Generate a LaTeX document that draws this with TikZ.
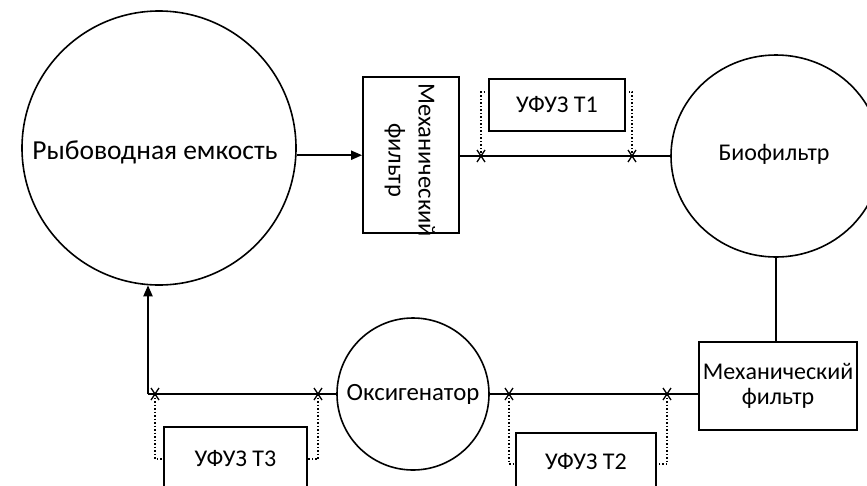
\documentclass[tikz,border=0pt]{standalone}
\usepackage{fontspec}
\setmainfont{Carlito}
\usetikzlibrary{arrows.meta,shapes.geometric,calc}
\tikzset{
  ln/.style={line width=2pt},
  arr/.style={line width=2pt,-{Triangle[length=11pt,width=9pt]}},
  ring/.style={draw,line width=1.6pt,circle,inner sep=0pt},
  boxx/.style={draw,line width=1.8pt,rectangle,inner sep=0pt},
  dots/.style={line width=1.5pt,dotted},
  txt/.style={font=\fontsize{24}{25}\selectfont,align=center},
  xmark/.style={line width=1.3pt}
}
\newcommand{\xm}[1]{\draw[xmark] ($(#1)+(-4,-6)$) -- ($(#1)+(4,6)$) ($(#1)+(-4,6)$) -- ($(#1)+(4,-6)$);}
\begin{document}
\begin{tikzpicture}[x=1pt,y=-1pt]
\useasboundingbox (0,0) rectangle (867,485);
\clip (0,0) rectangle (867,485);
% tank
\node[ring,minimum size=274pt] (tank) at (159,148) {};
\node[font=\fontsize{27.5}{29}\selectfont] (tanktxt) at (155,152) {Рыбоводная емкость};
% mech filter 1 (vertical)
\node[boxx,minimum width=96pt,minimum height=156pt] (mf1) at (411,155) {};
\node[rotate=-90,font=\fontsize{24.5}{30}\selectfont,align=center] (mf1txt) at (410,160) {Механический\\фильтр};
% biofilter
\node[draw,line width=1.6pt,ellipse,inner sep=0pt,minimum width=210pt,minimum height=202pt] (bio) at (776,156) {};
\node[txt] (biotxt) at (774,154) {Биофильтр};
% mech filter 2
\node[boxx,minimum width=158pt,minimum height=88pt,txt] (mf2) at (778,386) {Механический\\фильтр};
% oxygenator
\node[ring,minimum size=152pt,font=\fontsize{24.8}{26}\selectfont] (oxy) at (413,394) {Оксигенатор};
% UFUZ boxes
\node[boxx,minimum width=136pt,minimum height=52pt,txt] (t1) at (557,105) {УФУЗ Т1};
\node[boxx,minimum width=140pt,minimum height=57pt,txt] (t2) at (586,461.5) {УФУЗ Т2};
\node[boxx,minimum width=143pt,minimum height=63pt,txt] (t3) at (235.5,458.5) {УФУЗ Т3};
% coordinates
\coordinate (a1) at (481,156);
\coordinate (a2) at (632,156);
\coordinate (b1) at (509,394);
\coordinate (b2) at (667,394);
\coordinate (c1) at (155,394);
\coordinate (c2) at (318,394);
\coordinate (corner) at (148,394);
% connectors
\draw[arr] (tank.-3.8) -- (tank.-3.8 -| mf1.west);
\draw[ln] (mf1.east |- bio.west) -- (bio.west);
\draw[ln] (bio.south) -- (bio.south |- mf2.north);
\draw[ln] (mf2.west |- oxy.east) -- (oxy.east);
\draw[ln] (oxy.west) -- (corner);
\draw[arr] (corner) -- ($(corner |- tank.south)+(0,-0.5)$);
% X marks
\xm{a1}\xm{a2}\xm{b1}\xm{b2}\xm{c1}\xm{c2}
% dotted leads
\draw[dots] (a1) -- (481,92) -- (484,92);
\draw[dots] (a2) -- (632,92) -- (629,92);
\draw[dots] (b1) -- (509,464) -- (t2.west |- 0,464);
\draw[dots] (b2) -- (667,464) -- (t2.east |- 0,464);
\draw[dots] (c1) -- (155,459) -- (t3.west |- 0,459);
\draw[dots] (c2) -- (318,459) -- (t3.east |- 0,459);
\end{tikzpicture}
\end{document}
